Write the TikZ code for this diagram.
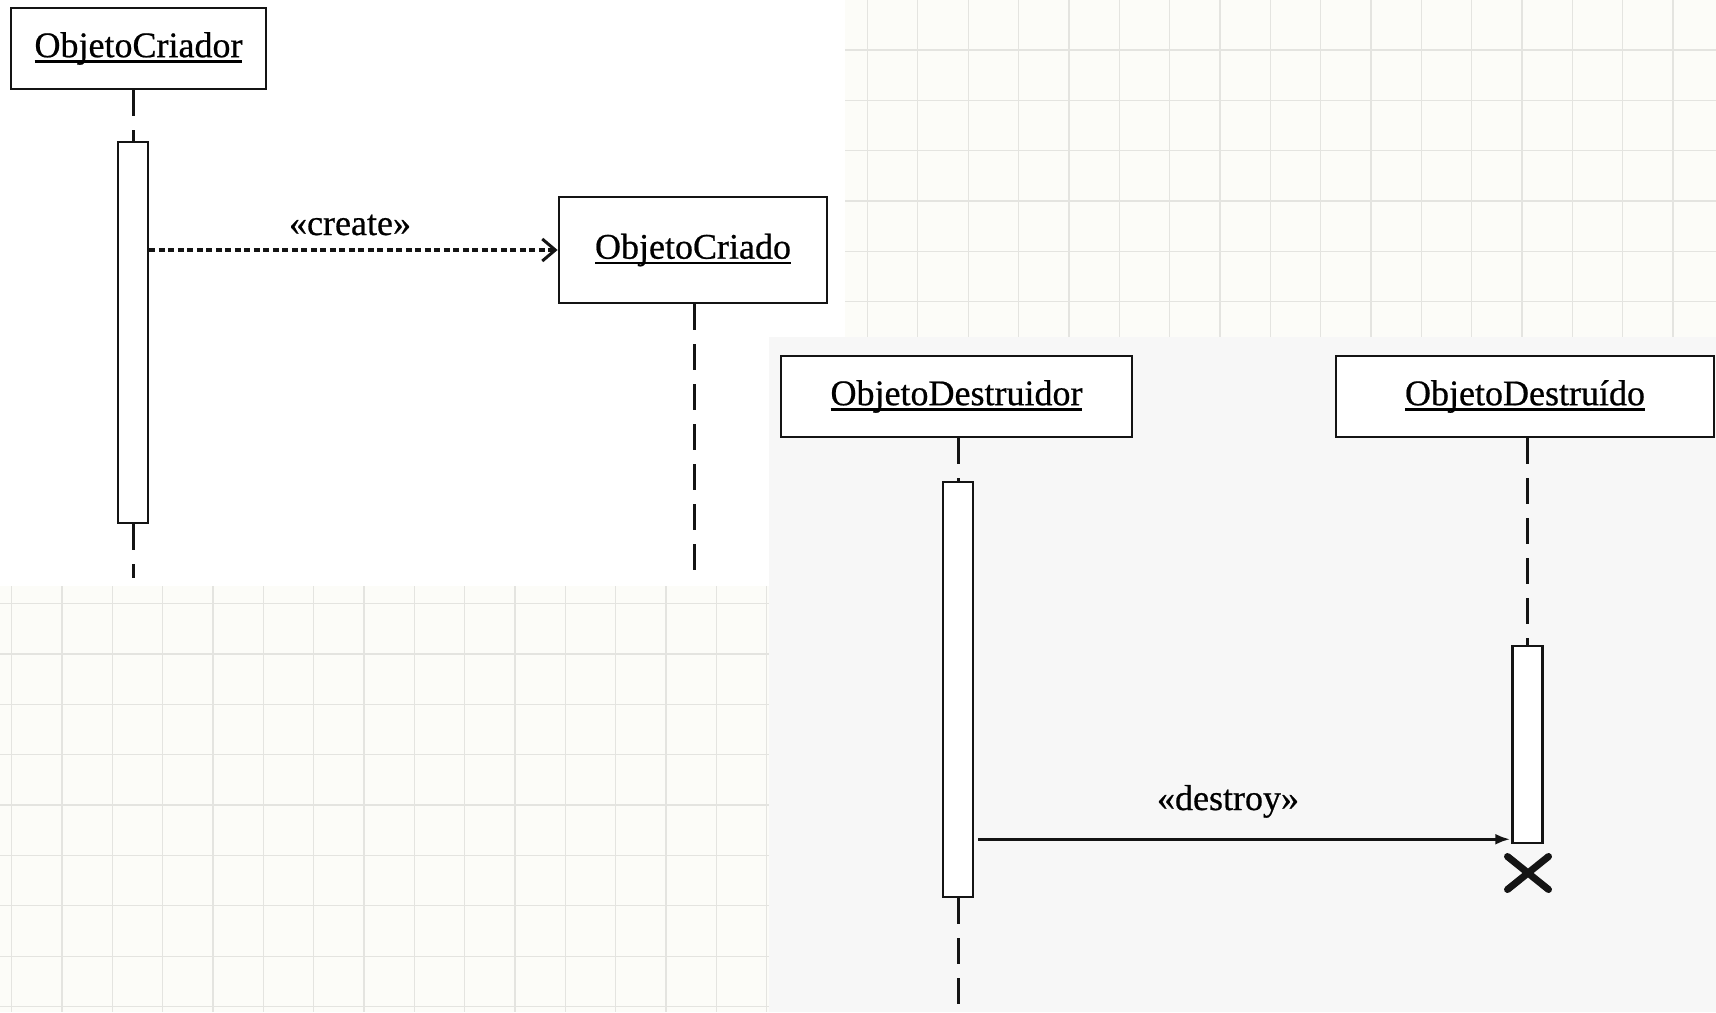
\documentclass[tikz,border=0pt]{standalone}
\usepackage{fontspec}
\setmainfont{Liberation Serif}[FakeBold=0.6]
\usetikzlibrary{arrows.meta,calc,shapes.misc}

\definecolor{paper}{HTML}{FCFCF8}
\definecolor{gridline}{HTML}{E4E4E0}
\definecolor{panelgray}{HTML}{F7F7F7}
\definecolor{ink}{HTML}{141414}

% underlined object name, the rule sitting just under the baseline
\newcommand\undername[1]{\setbox0\hbox{#1}\rlap{\rule[-5.5pt]{\wd0}{2.6pt}}\box0}

\begin{document}
\begin{tikzpicture}[x=1pt,y=-1pt,
  objbox/.style={draw=ink, line width=2.8pt, fill=white, rectangle, inner sep=0pt,
    font=\fontsize{36}{40}\selectfont},
  actbar/.style={draw=ink, line width=2.5pt, fill=white, rectangle, inner sep=0pt,
    minimum width=30pt},
  lifeline/.style={draw=ink, line width=3pt, dash pattern=on 26pt off 14pt},
  createmsg/.style={draw=ink, line width=3.2pt, dash pattern=on 6pt off 3.5pt,
    -{Straight Barb[length=13pt,width=22pt,line width=3pt]}},
  destroymsg/.style={draw=ink, line width=3pt,
    -{Latex[length=15pt,width=11pt]}},
  msglabel/.style={anchor=base, inner sep=0pt, font=\fontsize{36}{40}\selectfont},
  killmark/.style={cross out, draw=ink, line width=7pt, line cap=round,
    minimum width=34pt, minimum height=26pt, inner sep=0pt}
]
\useasboundingbox (0,0) rectangle (1716,1012);

% squared paper
\fill[paper] (0,0) rectangle (1716,1012);
\foreach \i in {0,...,34}
  \draw[gridline, line width=1.3pt] ({11.5+50.35*\i},0) -- ++(0,1012);
\foreach \j in {1,...,20}
  \draw[gridline, line width=1.3pt] (0,{-0.5+50.35*\j}) -- ++(1716,0);

% the two sheets laid on the paper
\fill[white] (0,0) rectangle (845,586);
\fill[panelgray] (769,337) rectangle (1716,1012);

% ---------- creation ----------
\node[objbox, minimum width=255pt, minimum height=81pt] (criador) at (138.5,48.5)
  {\undername{ObjetoCriador}};
\node[actbar, minimum height=381pt] (act1) at (133,332.5) {};
\coordinate (end1) at (133,578);
\draw[lifeline] (act1.north |- criador.south) -- (act1.north);
\draw[lifeline] (act1.south) -- (end1);

\node[objbox, minimum width=268pt, minimum height=106pt] (criado) at (693,250)
  {\undername{ObjetoCriado}};
\coordinate (end2) at (694,571);
\draw[lifeline] (end2 |- criado.south) -- (end2);

\draw[createmsg] (act1.east |- criado.west) -- (criado.west);
\node[msglabel] (lblcreate) at (350,235) {«create»};

% ---------- destruction ----------
\node[objbox, minimum width=351pt, minimum height=81pt] (destruidor) at (956.5,396.5)
  {\undername{ObjetoDestruidor}};
\node[actbar, minimum height=415pt] (act2) at (958,689.5) {};
\coordinate (end3) at (958,1007);
\draw[lifeline] (act2.north |- destruidor.south) -- (act2.north);
\draw[lifeline] (act2.south) -- (end3);

\node[objbox, minimum width=378pt, minimum height=81pt] (destruido) at (1525,396.5)
  {\undername{ObjetoDestruído}};
\node[actbar, minimum height=197pt] (act3) at (1527.5,744.5) {};
\draw[lifeline] (act3.north |- destruido.south) -- (act3.north);

\coordinate (hit) at ($(act3.south west)+(-1,-5)$);
\coordinate (start) at ($(act2.east |- hit)+(4,0)$);
\draw[destroymsg] (start) -- (hit);
\node[msglabel] (lbldestroy) at (1228,810) {«destroy»};

\node[killmark] (kill) at (1528,873) {};
\end{tikzpicture}
\end{document}
